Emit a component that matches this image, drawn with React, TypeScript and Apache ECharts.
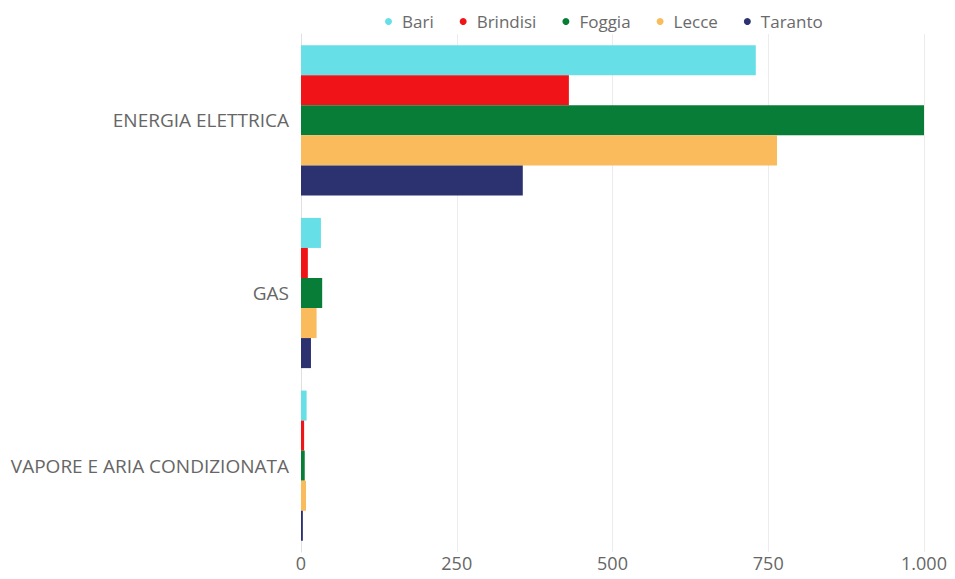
import React, { useEffect, useRef } from "react";
import * as echarts from "echarts";

const categories = ["ENERGIA ELETTRICA", "GAS", "VAPORE E ARIA CONDIZIONATA"];
const seriesNames = ["Bari", "Brindisi", "Foggia", "Lecce", "Taranto"];
const bari = [730, 32, 9];
const brindisi = [430, 11, 5];
const foggia = [1000, 34, 6];
const lecce = [764, 25, 8];
const taranto = [356, 16, 3];
const colors = ["#66e0e6", "#f01418", "#087d38", "#f9bb5b", "#2c3170"];
const xTicks = [0, 250, 500, 750, 1000];

export default function App() {
  const ref = useRef<HTMLDivElement>(null);
  useEffect(() => {
    if (!ref.current) return;
    const chart = echarts.init(ref.current, null, { renderer: "svg" });
    const values = [bari, brindisi, foggia, lecce, taranto];
    chart.setOption({
      animation: false,
      color: colors,
      textStyle: { fontFamily: "Open Sans" },
      legend: {
        top: 8,
        left: 380,
        icon: "circle",
        itemWidth: 7,
        itemHeight: 7,
        itemGap: 26,
        textStyle: { color: "#6a6a6a", fontSize: 17, fontFamily: "Open Sans", padding: [0, 0, 0, 5] },
        data: seriesNames,
      },
      grid: { left: 301, right: 31, top: 34, bottom: 27, containLabel: false },
      xAxis: {
        type: "value",
        min: xTicks[0],
        max: xTicks[xTicks.length - 1],
        interval: 250,
        axisLine: { show: false },
        axisTick: { show: false },
        splitLine: { show: true, lineStyle: { color: "#ececec", width: 1 } },
        axisLabel: {
          color: "#666",
          fontSize: 18,
          margin: 2,
          formatter: (v: number) => v.toLocaleString("de-DE"),
        },
      },
      yAxis: {
        type: "category",
        inverse: true,
        data: categories,
        axisLine: { show: true, lineStyle: { color: "#e0e0e0" } },
        axisTick: { show: false },
        axisLabel: { color: "#666", fontSize: 19, margin: 12 },
      },
      series: seriesNames.map((name, i) => ({
        name,
        type: "bar",
        data: values[i],
        barGap: "0%",
        barCategoryGap: "13%",
        itemStyle: { color: colors[i] },
      })),
    });
    return () => chart.dispose();
  }, []);
  return <div ref={ref} style={{ width: 955, height: 579, position: "absolute", left: 0, top: 0 }} />;
}
